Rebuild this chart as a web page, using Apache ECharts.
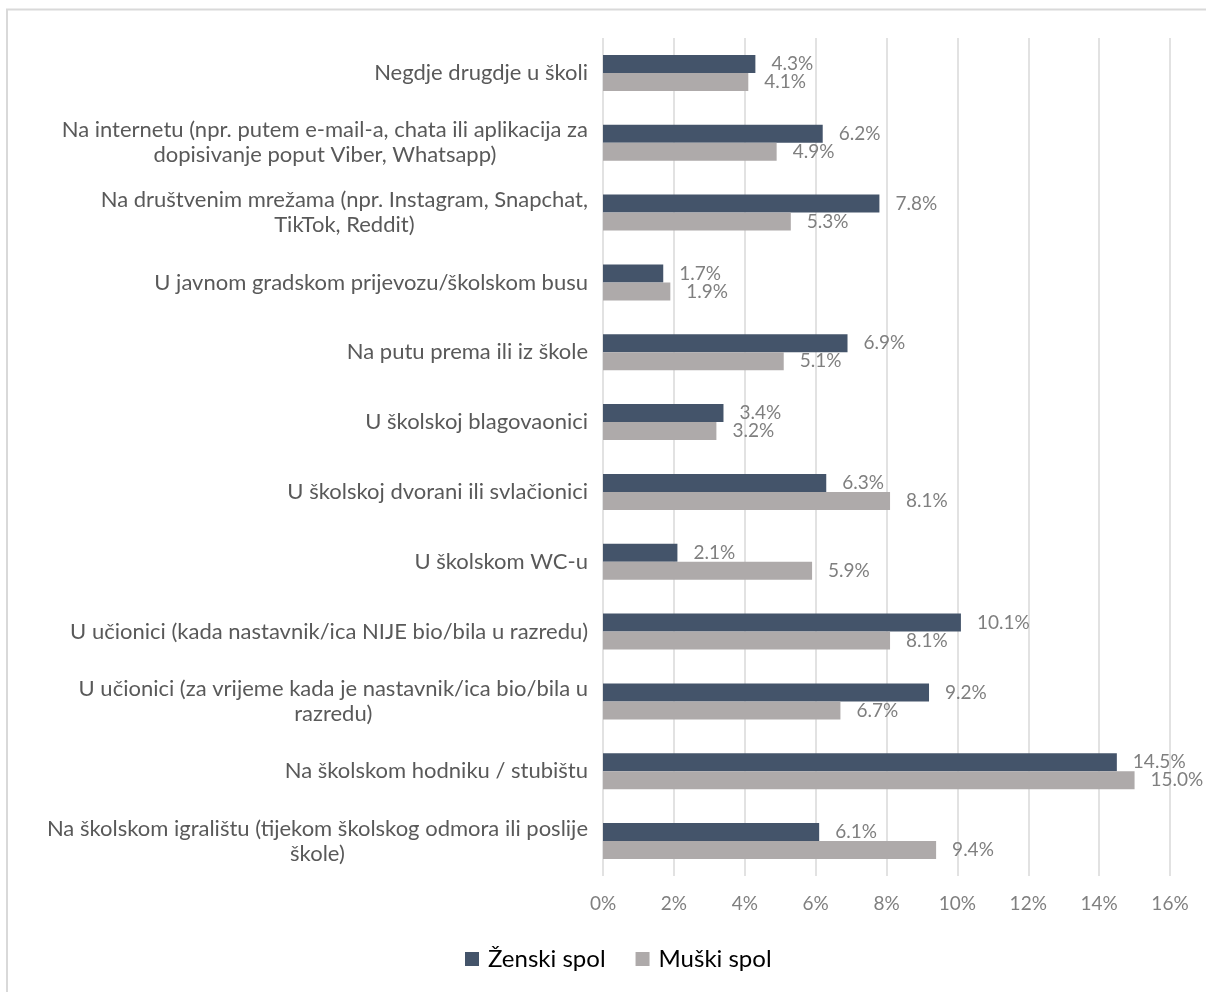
<!DOCTYPE html>
<html>
<head>
<meta charset="utf-8">
<script src="https://cdn.jsdelivr.net/npm/echarts@6/dist/echarts.min.js"></script>
<style>
html,body{margin:0;padding:0;background:#fff;}
#chart{width:1206px;height:992px;}
</style>
</head>
<body>
<div id="chart"></div>
<script>
const categories = [
  "Negdje drugdje u školi",
  "Na internetu (npr. putem e-mail-a, chata ili aplikacija za\ndopisivanje poput Viber, Whatsapp)",
  "Na društvenim mrežama (npr. Instagram, Snapchat,\nTikTok, Reddit)",
  "U javnom gradskom prijevozu/školskom busu",
  "Na putu prema ili iz škole",
  "U školskoj blagovaonici",
  "U školskoj dvorani ili svlačionici",
  "U školskom WC-u",
  "U učionici (kada nastavnik/ica NIJE bio/bila u razredu)",
  "U učionici (za vrijeme kada je nastavnik/ica bio/bila u\nrazredu)",
  "Na školskom hodniku / stubištu",
  "Na školskom igralištu (tijekom školskog odmora ili poslije\nškole)"
];
const zenski = [4.3, 6.2, 7.8, 1.7, 6.9, 3.4, 6.3, 2.1, 10.1, 9.2, 14.5, 6.1];
const muski  = [4.1, 4.9, 5.3, 1.9, 5.1, 3.2, 8.1, 5.9, 8.1, 6.7, 15.0, 9.4];
const seriesNames = ["Ženski spol", "Muški spol"];
const colors = ["#44546a", "#aeaaaa"];

const chart = echarts.init(document.getElementById('chart'), null, {renderer:'canvas'});
const FONT = 'Lato';
const labelCfg = {
  show: true, position: 'right', distance: 16,
  color: '#7f7f7f', fontFamily: FONT, fontSize: 19,
  formatter: p => p.value.toFixed(1) + '%'
};
chart.setOption({
  animation: false,
  backgroundColor: '#fff',
  graphic: [{
    type: 'rect', silent: true,
    shape: {x: 7, y: 9.5, width: 1230, height: 1010},
    style: {fill: 'none', stroke: '#d9d9d9', lineWidth: 2}
  }],
  grid: {left: 603, right: 36, top: 38, height: 838, containLabel: false},
  legend: {
    top: 942, left: 460, itemWidth: 14, itemHeight: 14, itemGap: 30,
    icon: 'rect',
    textStyle: {fontFamily: FONT, fontSize: 24, color: '#000', padding: [0, 0, 0, 4]},
    data: seriesNames
  },
  xAxis: {
    type: 'value', min: 0, max: 16, interval: 2,
    axisLine: {show: false}, axisTick: {show: false},
    splitLine: {show: true, lineStyle: {color: '#d9d9d9', width: 1.5}},
    axisLabel: {formatter: '{value}%', color: '#7f7f7f', fontFamily: FONT, fontSize: 19, margin: 18}
  },
  yAxis: {
    type: 'category', inverse: true, data: categories,
    axisLine: {show: false}, axisTick: {show: false},
    axisLabel: {
      margin: 15, align: 'right',
      formatter: v => v.split('\n').map(s => '{c|' + s + '}').join('\n'),
      rich: {c: {align: 'center', color: '#595959', fontFamily: FONT, fontSize: 22, lineHeight: 25}}
    }
  },
  series: [
    {name: seriesNames[0], type: 'bar', data: zenski, barWidth: 18, barGap: '0%',
     itemStyle: {color: colors[0]}, label: labelCfg},
    {name: seriesNames[1], type: 'bar', data: muski, barWidth: 18, barGap: '0%',
     itemStyle: {color: colors[1]}, label: labelCfg}
  ]
});
</script>
</body>
</html>
